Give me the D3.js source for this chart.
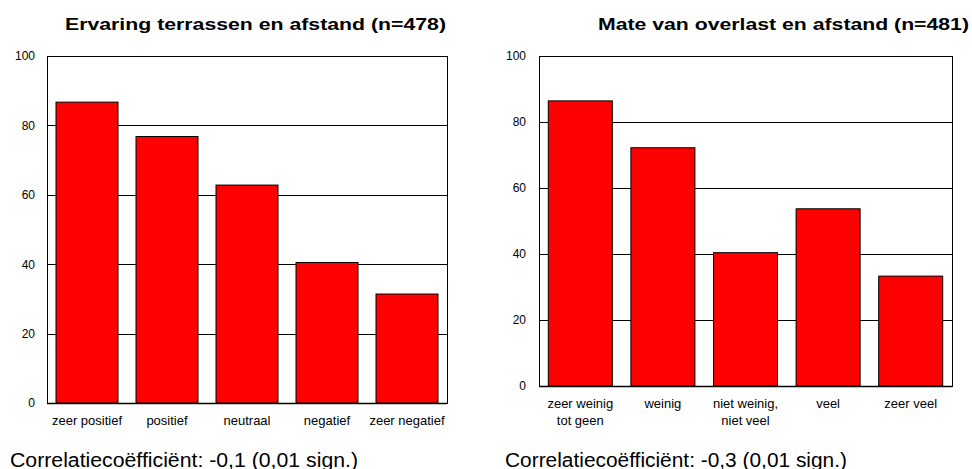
<!DOCTYPE html>
<html>
<head>
<meta charset="utf-8">
<script src="https://cdn.jsdelivr.net/npm/d3@7"></script>
<style>
  body { margin: 0; background: #fff; }
  text { font-family: Arial, "Liberation Sans", sans-serif; fill: #000; }
</style>
</head>
<body>
<svg id="chart" width="972" height="469"></svg>
<script>
// data
var leftTitle = "Ervaring terrassen en afstand (n=478)";
var leftCats = ["zeer positief", "positief", "neutraal", "negatief", "zeer negatief"];
var leftValues = [86.7, 76.8, 62.8, 40.5, 31.4];
var leftNote = "Correlatiecoëfficiënt: -0,1 (0,01 sign.)";

var rightTitle = "Mate van overlast en afstand (n=481)";
var rightCats = ["zeer weinig|tot geen", "weinig", "niet weinig,|niet veel", "veel", "zeer veel"];
var rightValues = [86.4, 72.2, 40.4, 53.7, 33.3];
var rightNote = "Correlatiecoëfficiënt: -0,3 (0,01 sign.)";

var yTicks = [0, 20, 40, 60, 80, 100];
var gridTicks = [20, 40, 60, 80];

var FONT = "Arial, 'Liberation Sans', sans-serif";
var svg = d3.select("#chart");

// draw one panel
function drawPanel(opt) {
  var g = svg.append("g");

  var x = d3.scaleBand()
    .domain(opt.cats)
    .range([opt.x0, opt.x1])
    .paddingInner(0.225)
    .paddingOuter(0.1125);
  var y = d3.scaleLinear()
    .domain([0, 100])
    .range([opt.y0, opt.y1]);

  // gridlines behind the bars
  g.selectAll(".grid")
    .data(gridTicks)
    .enter().append("line")
    .attr("x1", opt.x0).attr("x2", opt.x1)
    .attr("y1", function(d) { return Math.round(y(d)) + 0.5; })
    .attr("y2", function(d) { return Math.round(y(d)) + 0.5; })
    .attr("stroke", "#000")
    .attr("stroke-width", 1);

  g.selectAll(".bar")
    .data(opt.values)
    .enter().append("rect")
    .attr("x", function(d, i) { return x(opt.cats[i]); })
    .attr("width", x.bandwidth())
    .attr("y", function(d) { return y(d); })
    .attr("height", function(d) { return y(0) - y(d); })
    .attr("fill", "#ff0000")
    .attr("stroke", "#000")
    .attr("stroke-width", 1);

  // frame
  g.append("rect")
    .attr("x", opt.x0 + 0.5).attr("y", opt.y1 + 0.5)
    .attr("width", opt.x1 - opt.x0).attr("height", opt.y0 - opt.y1)
    .attr("fill", "none")
    .attr("stroke", "#000")
    .attr("stroke-width", 1);
  g.append("line")
    .attr("x1", opt.x0).attr("x2", opt.x1)
    .attr("y1", opt.y0 + 0.5).attr("y2", opt.y0 + 0.5)
    .attr("stroke", "#000").attr("stroke-width", 1.5);

  // y axis labels
  var yAxis = d3.axisLeft(y).tickValues(yTicks).tickSize(0).tickPadding(opt.tickPad);
  var ya = g.append("g")
    .attr("transform", "translate(" + opt.x0 + ",0)")
    .call(yAxis);
  ya.select(".domain").remove();
  ya.selectAll("text")
    .style("font-size", "12px")
    .style("font-family", FONT)
    .attr("fill", "#000");

  // category labels, may wrap on "|"
  var labels = g.selectAll(".cat")
    .data(opt.cats)
    .enter().append("text")
    .attr("text-anchor", "middle")
    .style("font-size", "13px")
    .attr("x", function(d) { return x(d) + x.bandwidth() / 2; })
    .attr("y", opt.y0 + opt.labelDy);
  labels.each(function(d) {
    var parts = d.split("|");
    var t = d3.select(this);
    parts.forEach(function(p, k) {
      t.append("tspan")
        .attr("x", x(d) + x.bandwidth() / 2)
        .attr("dy", k == 0 ? 0 : 17)
        .text(p);
    });
  });

  // title (picture is a bit stretched horizontally)
  g.append("text")
    .attr("x", opt.titleX)
    .attr("y", 29.5)
    .style("font-size", "17px")
    .style("font-weight", "bold")
    .attr("textLength", opt.titleW)
    .attr("lengthAdjust", "spacingAndGlyphs")
    .text(opt.title);

  // footnote
  g.append("text")
    .attr("x", opt.noteX)
    .attr("y", 466.5)
    .style("font-size", "19.5px")
    .attr("textLength", opt.noteW)
    .attr("lengthAdjust", "spacingAndGlyphs")
    .text(opt.note);
}

drawPanel({
  cats: leftCats, values: leftValues, title: leftTitle, note: leftNote,
  x0: 47, x1: 447, y0: 403, y1: 56, labelDy: 22, tickPad: 12,
  titleX: 65, titleW: 381, noteX: 10, noteW: 348
});

drawPanel({
  cats: rightCats, values: rightValues, title: rightTitle, note: rightNote,
  x0: 539, x1: 952, y0: 386, y1: 56, labelDy: 22, tickPad: 13,
  titleX: 598, titleW: 371, noteX: 505, noteW: 342
});
</script>
</body>
</html>
